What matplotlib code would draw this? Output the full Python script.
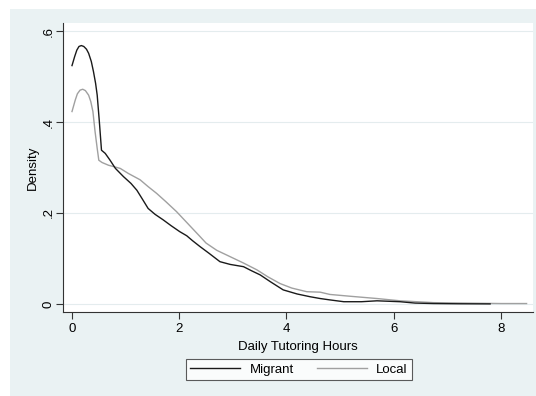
import matplotlib
matplotlib.use("Agg")
import matplotlib.pyplot as plt
from matplotlib.patches import Rectangle

plt.rcParams['font.family'] = ['Liberation Sans', 'DejaVu Sans']

migrant_x = [0, 0.05, 0.09, 0.13, 0.174, 0.22, 0.27, 0.31, 0.36, 0.40, 0.44, 0.47, 0.51, 0.55,
             0.62, 0.71, 0.81, 0.96, 1.10, 1.21, 1.30, 1.42, 1.55, 1.70, 1.85, 2.01,
             2.14, 2.25, 2.39, 2.55, 2.76, 2.95, 3.20, 3.35, 3.51, 3.70, 3.94, 4.20,
             4.44, 4.63, 4.81, 5.07, 5.40, 5.69, 6.12, 6.40, 6.74, 7.20, 7.80]
migrant_y = [0.524, 0.544, 0.558, 0.566, 0.568, 0.566, 0.560, 0.551, 0.533, 0.511, 0.485, 0.459, 0.401, 0.338,
             0.331, 0.316, 0.298, 0.280, 0.265, 0.250, 0.233, 0.210, 0.197, 0.185, 0.172, 0.159,
             0.150, 0.139, 0.126, 0.112, 0.093, 0.087, 0.082, 0.073, 0.064, 0.049, 0.031, 0.022,
             0.016, 0.012, 0.009, 0.005, 0.005, 0.007, 0.005, 0.002, 0.001, 0.0005, 0.0002]

local_x = [0, 0.06, 0.10, 0.15, 0.20, 0.25, 0.31, 0.35, 0.39, 0.43, 0.47, 0.50, 0.56, 0.68,
           0.90, 1.05, 1.27, 1.42, 1.58, 1.75, 1.95, 2.15, 2.39, 2.50, 2.70, 2.95, 3.20,
           3.45, 3.65, 3.88, 4.10, 4.38, 4.63, 4.81, 5.19, 5.69, 6.12, 6.74, 7.30, 8.00, 8.48]
local_y = [0.423, 0.448, 0.462, 0.470, 0.472, 0.469, 0.459, 0.445, 0.423, 0.379, 0.342, 0.316, 0.311, 0.305,
           0.298, 0.287, 0.273, 0.258, 0.243, 0.225, 0.203, 0.178, 0.148, 0.134, 0.118, 0.104, 0.090,
           0.075, 0.060, 0.045, 0.035, 0.027, 0.026, 0.021, 0.017, 0.012, 0.007, 0.003, 0.002, 0.001, 0.001]

x_ticks = [0, 2, 4, 6, 8]
y_ticks = [0, 0.2, 0.4, 0.6]
y_tick_labels = ["0", ".2", ".4", ".6"]

W, H = 536, 396
fig = plt.figure(figsize=(W / 100, H / 100), dpi=100)
fig.patch.set_facecolor('white')
bg = '#EAF2F3'
fig.patches.append(Rectangle((10 / W, 0), 1 - 10 / W, 1 - 9 / H, transform=fig.transFigure,
                             facecolor=bg, edgecolor='none', zorder=-10))

ax = fig.add_axes([63 / W, 1 - 312 / H, (533 - 63) / W, (312 - 23) / H])
ax.set_zorder(5)
ax.set_facecolor('white')

ax.plot(migrant_x, migrant_y, color='#1a1a1a', lw=1.0, label='Migrant', zorder=3)
ax.plot(local_x, local_y, color='#a0a0a0', lw=1.0, label='Local', zorder=2)

ax.set_xlim(-0.168, 8.6)
ax.set_ylim(-0.0176, 0.6176)
ax.set_xticks(x_ticks)
ax.set_yticks(y_ticks)
ax.set_yticklabels(y_tick_labels, rotation=90, va='center')
ax.grid(axis='y', color='#E4ECEE', lw=0.8, zorder=0)
ax.set_axisbelow(True)

for s in ['top', 'right']:
    ax.spines[s].set_visible(False)
for s in ['left', 'bottom']:
    ax.spines[s].set_color('#333333')
    ax.spines[s].set_linewidth(0.8)
ax.tick_params(axis='x', direction='out', length=5, width=0.8, color='#333333',
               labelsize=9.5, labelcolor='black', pad=3)
ax.tick_params(axis='y', direction='out', length=5, width=0.8, color='#333333',
               labelsize=9.5, labelcolor='black', pad=1)

ax.set_xlabel('Daily Tutoring Hours', fontsize=9.5, labelpad=4)
ax.set_ylabel('Density', fontsize=9.5, labelpad=3)

leg = fig.legend(loc='center', bbox_to_anchor=(299 / W, 1 - 369.5 / H), ncol=2,
                 fontsize=9.5, frameon=True, fancybox=False, handlelength=3.8,
                 handletextpad=0.7, columnspacing=1.75, borderpad=0.35, borderaxespad=0)
leg.get_frame().set_edgecolor('#333333')
leg.get_frame().set_linewidth(0.8)
leg.get_frame().set_facecolor('white')
leg.set_zorder(6)

fig.savefig('out.png', dpi=100, facecolor=fig.get_facecolor())
